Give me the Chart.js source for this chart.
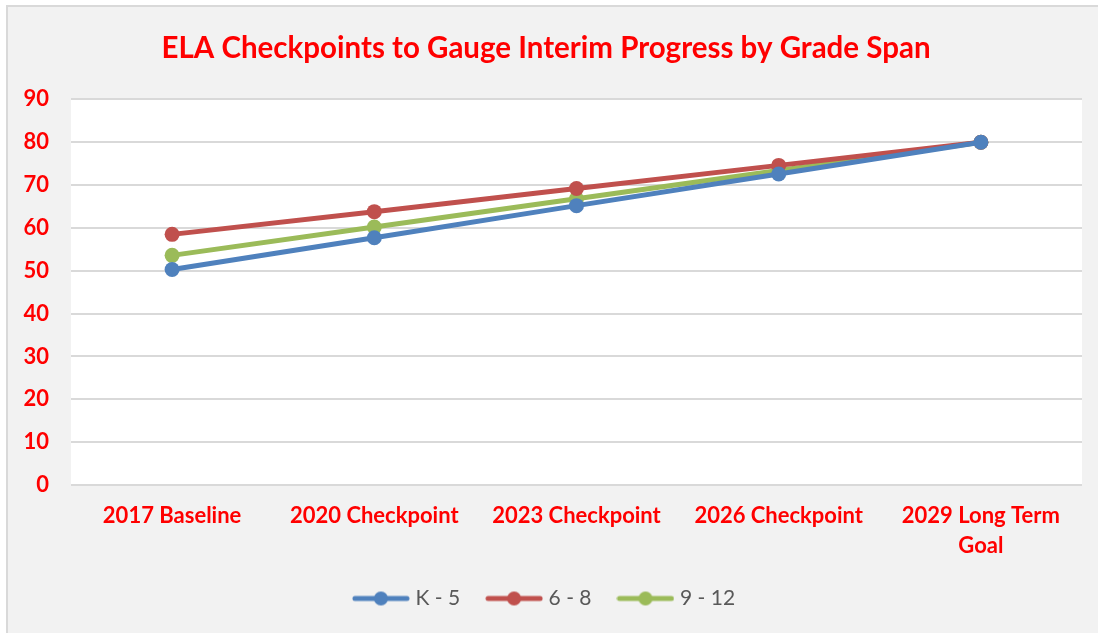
<!DOCTYPE html>
<html>
<head>
<meta charset="utf-8">
<script src="https://cdn.jsdelivr.net/npm/chart.js@4.4.1/dist/chart.umd.min.js"></script>
<style>
  html, body { margin: 0; padding: 0; background: #ffffff; }
  #wrap { width: 1098px; height: 633px; }
</style>
</head>
<body>
<div id="wrap"><canvas id="chart" width="1098" height="633"></canvas></div>
<script>
// Chart data
const categories = [['2017 Baseline'], ['2020 Checkpoint'], ['2023 Checkpoint'], ['2026 Checkpoint'], ['2029 Long Term', 'Goal']];
const k5 = [50.3, 57.7, 65.2, 72.6, 80];
const g6to8 = [58.5, 63.8, 69.2, 74.6, 80];
const g9to12 = [53.6, 60.2, 66.8, 73.4, 80];
const yTicks = [0, 10, 20, 30, 40, 50, 60, 70, 80, 90];

const RED = '#ff0000';
const FONT = 'Lato, "Open Sans", sans-serif';

// legend marker: short line with a dot in the middle
function legendIcon(color){
    const c = document.createElement('canvas');
    c.width = 58; c.height = 16;
    const g = c.getContext('2d');
    g.strokeStyle = color; g.lineWidth = 5; g.lineCap = 'round';
    g.beginPath(); g.moveTo(3, 8); g.lineTo(55, 8); g.stroke();
    g.fillStyle = color;
    g.beginPath(); g.arc(29, 8, 7, 0, Math.PI*2); g.fill();
    return c;
}

// background + white plot area
const bgPlugin = {
    id: 'bg',
    beforeDraw(chart){
        const ctx = chart.ctx, a = chart.chartArea;
        ctx.save();
        ctx.fillStyle = '#ffffff';
        ctx.fillRect(0, 0, chart.width, chart.height);
        ctx.fillStyle = '#f2f2f2';
        ctx.fillRect(7, 6, chart.width, chart.height);
        ctx.strokeStyle = '#d9d9d9';
        ctx.lineWidth = 2;
        ctx.beginPath();
        ctx.moveTo(7, chart.height); ctx.lineTo(7, 6); ctx.lineTo(chart.width, 6);
        ctx.stroke();
        ctx.fillStyle = '#ffffff';
        ctx.fillRect(a.left, a.top, a.right - a.left, a.bottom - a.top);
        ctx.restore();
    }
};

function ds(label, data, color){
    return {
        label: label, data: data,
        borderColor: color, backgroundColor: color,
        borderWidth: 5, pointRadius: 7.5, pointHoverRadius: 7.5,
        pointBorderWidth: 0, pointBackgroundColor: color,
        tension: 0, fill: false, legendIcon: legendIcon(color)
    };
}

new Chart(document.getElementById('chart'), {
    type: 'line',
    data: {
        labels: categories,
        datasets: [ds('K - 5', k5, '#4f81bd'), ds('6 - 8', g6to8, '#c0504d'), ds('9 - 12', g9to12, '#9bbb59')]
    },
    plugins: [bgPlugin],
    options: {
        responsive: false,
        animation: false,
        layout: { padding: { top: 14, left: 10, right: 16, bottom: 14 } },
        plugins: {
            title: {
                display: true,
                text: 'ELA Checkpoints to Gauge Interim Progress by Grade Span',
                color: RED,
                font: { family: FONT, size: 29.5, weight: 'bold' },
                padding: { top: 17, bottom: 33 }
            },
            legend: {
                position: 'bottom',
                labels: {
                    color: '#595959',
                    font: { family: FONT, size: 21 },
                    usePointStyle: true,
                    pointStyleWidth: 48,
                    padding: 30,
                    generateLabels(chart){
                        return chart.data.datasets.map((d, i) => ({
                            text: d.label, pointStyle: d.legendIcon,
                            fillStyle: d.borderColor, strokeStyle: d.borderColor,
                            lineWidth: 0, datasetIndex: i, hidden: false, fontColor: '#595959'
                        }));
                    }
                }
            },
            tooltip: { enabled: false }
        },
        scales: {
            x: {
                offset: true,
                grid: { display: false, drawTicks: false },
                border: { display: false },
                ticks: { color: RED, font: { family: FONT, size: 22, weight: 'bold', lineHeight: 1.36 }, padding: 16, maxRotation: 0 },
                afterFit(s){ s.height = 73; }
            },
            y: {
                min: 0, max: 90,
                afterBuildTicks(s){ s.ticks = yTicks.map(v => ({ value: v })); },
                grid: { color: '#d9d9d9', lineWidth: 2, drawTicks: false },
                border: { display: false },
                ticks: { color: RED, font: { family: FONT, size: 22, weight: 'bold' }, padding: 22 },
                afterFit(s){ s.width = 61; }
            }
        }
    }
});
</script>
</body>
</html>
